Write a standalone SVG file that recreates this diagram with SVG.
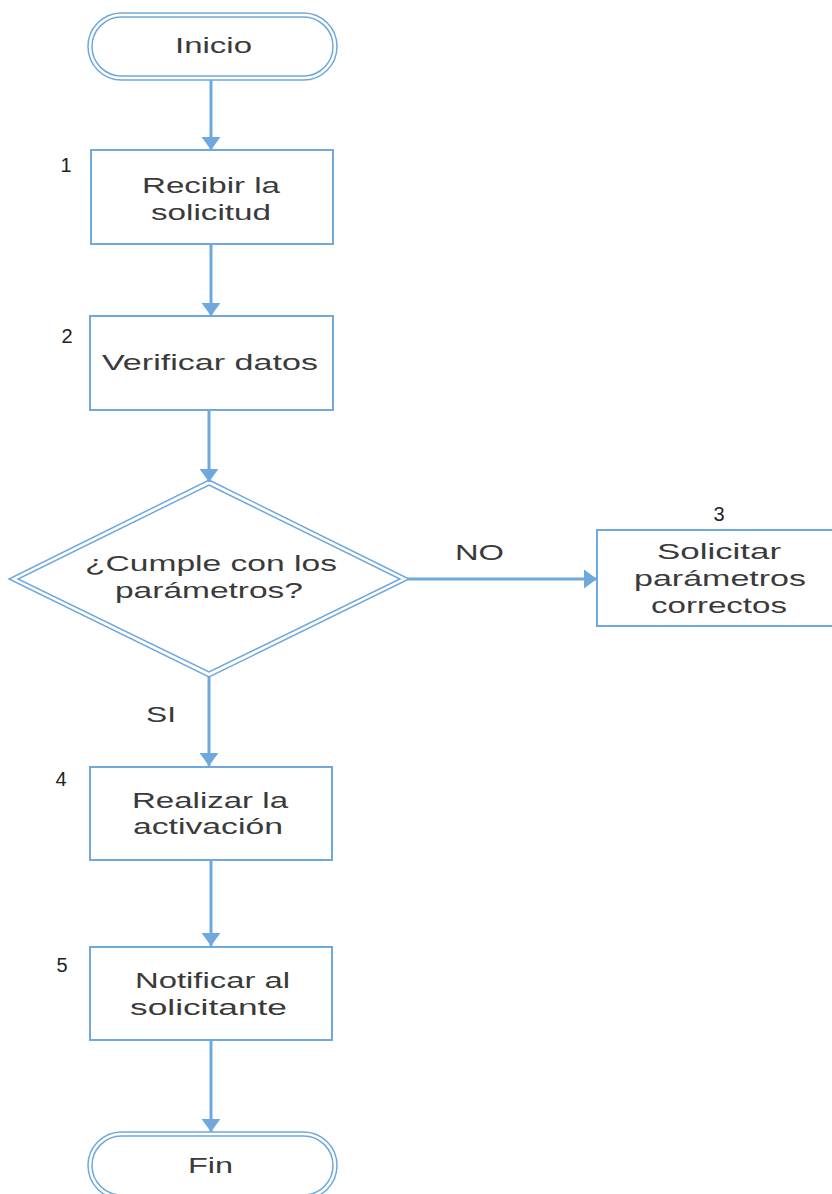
<svg xmlns="http://www.w3.org/2000/svg" width="832" height="1194" viewBox="0 0 832 1194">
<style>
.box{fill:#fff;stroke:#6fa8dc;stroke-width:2}
.dbl{fill:none;stroke:#6fa8dc;stroke-width:1.5}
.edge{fill:none;stroke:#6fa8dc;stroke-width:3}
.t{font-family:"Liberation Sans",Arial,sans-serif;font-size:22px;fill:#3a3a3a}
.n{font-family:"Liberation Sans",Arial,sans-serif;font-size:20px;fill:#222;text-anchor:middle}
</style>
<defs>
<marker id="ah" viewBox="0 0 10 10" refX="10" refY="5" markerWidth="4.5" markerHeight="6.5" markerUnits="strokeWidth" orient="auto" preserveAspectRatio="none">
<path d="M0,0 L10,5 L0,10 z" fill="#6fa8dc"/>
</marker>
</defs>
<rect width="832" height="1194" fill="#fff"/>
<g id="connectors">
<line class="edge" x1="211" y1="80" x2="211" y2="150" marker-end="url(#ah)"/>
<line class="edge" x1="211" y1="245" x2="211" y2="316" marker-end="url(#ah)"/>
<line class="edge" x1="209" y1="411" x2="209" y2="482" marker-end="url(#ah)"/>
<line class="edge" x1="408" y1="579" x2="597" y2="579" marker-end="url(#ah)"/>
<line class="edge" x1="209" y1="677" x2="209" y2="766" marker-end="url(#ah)"/>
<line class="edge" x1="211" y1="861" x2="211" y2="946" marker-end="url(#ah)"/>
<line class="edge" x1="211" y1="1041" x2="211" y2="1132" marker-end="url(#ah)"/>
<text class="t" x="455" y="560" textLength="49" lengthAdjust="spacingAndGlyphs">NO</text>
<text class="t" x="146" y="722" textLength="30" lengthAdjust="spacingAndGlyphs">SI</text>
</g>
<g id="inicio">
<rect class="dbl" x="88" y="13" width="249" height="67" rx="33.5"/>
<rect class="dbl" x="92" y="17" width="241" height="59" rx="29.5"/>
<text class="t" x="175" y="53" textLength="77" lengthAdjust="spacingAndGlyphs">Inicio</text>
</g>
<g id="n1">
<rect class="box" x="91" y="150" width="242" height="94"/>
<text class="n" x="66" y="172">1</text>
<text class="t" x="142" y="193" textLength="138" lengthAdjust="spacingAndGlyphs">Recibir la</text>
<text class="t" x="151" y="220" textLength="120" lengthAdjust="spacingAndGlyphs">solicitud</text>
</g>
<g id="n2">
<rect class="box" x="90" y="316" width="243" height="94"/>
<text class="n" x="67" y="343">2</text>
<text class="t" x="102" y="370" textLength="216" lengthAdjust="spacingAndGlyphs">Verificar datos</text>
</g>
<g id="decision">
<polygon class="dbl" fill="#fff" points="209,480 409,579 209,677 9,579"/>
<polygon class="dbl" points="209,485 400,579 209,672 18,579"/>
<text class="t" x="85" y="571" textLength="252" lengthAdjust="spacingAndGlyphs">¿Cumple con los</text>
<text class="t" x="115" y="598" textLength="188" lengthAdjust="spacingAndGlyphs">parámetros?</text>
</g>
<g id="n3">
<rect class="box" x="597" y="530" width="240" height="96"/>
<text class="n" x="719" y="521">3</text>
<text class="t" x="657" y="559" textLength="124" lengthAdjust="spacingAndGlyphs">Solicitar</text>
<text class="t" x="634" y="586" textLength="172" lengthAdjust="spacingAndGlyphs">parámetros</text>
<text class="t" x="651" y="613" textLength="136" lengthAdjust="spacingAndGlyphs">correctos</text>
</g>
<g id="n4">
<rect class="box" x="90" y="767" width="242" height="93"/>
<text class="n" x="61" y="786">4</text>
<text class="t" x="132" y="808" textLength="156" lengthAdjust="spacingAndGlyphs">Realizar la</text>
<text class="t" x="133" y="834" textLength="150" lengthAdjust="spacingAndGlyphs">activación</text>
</g>
<g id="n5">
<rect class="box" x="90" y="947" width="242" height="93"/>
<text class="n" x="62" y="972">5</text>
<text class="t" x="135" y="988" textLength="155" lengthAdjust="spacingAndGlyphs">Notificar al</text>
<text class="t" x="130" y="1015" textLength="157" lengthAdjust="spacingAndGlyphs">solicitante</text>
</g>
<g id="fin">
<rect class="dbl" x="88" y="1132" width="249" height="67" rx="33.5"/>
<rect class="dbl" x="92" y="1136" width="241" height="59" rx="29.5"/>
<text class="t" x="188" y="1173" textLength="45" lengthAdjust="spacingAndGlyphs">Fin</text>
</g>
</svg>
